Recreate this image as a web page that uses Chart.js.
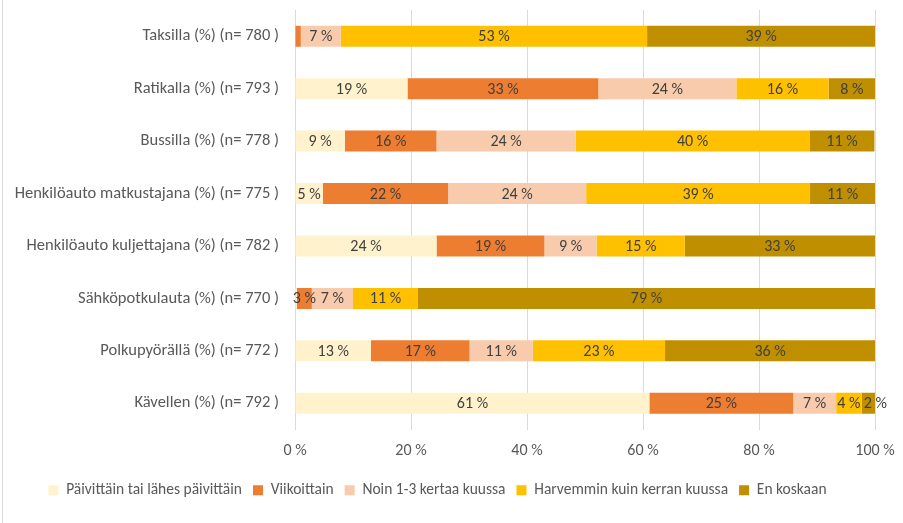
<!DOCTYPE html>
<html>
<head>
<meta charset="utf-8">
<script src="https://cdn.jsdelivr.net/npm/chart.js@4.4.1/dist/chart.umd.min.js"></script>
<style>
  html, body { margin: 0; padding: 0; background: #ffffff; }
  #wrap { position: relative; width: 903px; height: 523px; }
  #frame { position: absolute; left: 2px; top: 0; width: 0; height: 523px; border-left: 1px solid #d9d9d9; }
  canvas { position: absolute; left: 0; top: 0; }
</style>
</head>
<body>
<div id="wrap">
  <canvas id="c" width="903" height="523"></canvas>
  <div id="frame"></div>
</div>
<script>
const categories = [
  'Taksilla (%) (n= 780 )',
  'Ratikalla (%) (n= 793 )',
  'Bussilla (%) (n= 778 )',
  'Henkilöauto matkustajana (%) (n= 775 )',
  'Henkilöauto kuljettajana (%) (n= 782 )',
  'Sähköpotkulauta (%) (n= 770 )',
  'Polkupyörällä (%) (n= 772 )',
  'Kävellen (%) (n= 792 )'
];
const seriesNames = [
  'Päivittäin tai lähes päivittäin',
  'Viikoittain',
  'Noin 1-3 kertaa kuussa',
  'Harvemmin kuin kerran kuussa',
  'En koskaan'
];
const paivittain = [0, 19.4, 8.6, 4.8, 24.4, 0.3, 13.1, 61.1];
const viikoittain = [1.0, 32.9, 15.8, 21.6, 18.6, 2.6, 17.0, 24.8];
const noin13 = [6.9, 23.8, 24.0, 23.8, 9.0, 7.1, 10.9, 7.4];
const harvemmin = [52.8, 15.9, 40.3, 38.6, 15.2, 11.2, 22.8, 4.4];
const enKoskaan = [39.3, 8.0, 11.2, 11.2, 32.8, 78.8, 36.2, 2.3];
const xTicks = [0, 20, 40, 60, 80, 100];

const colors = ['#FFF2CC', '#ED7D31', '#F8CBAD', '#FFC000', '#BF8F00'];
const allSeries = [paivittain, viikoittain, noin13, harvemmin, enKoskaan];
const FONT = "Carlito, Lato, 'Open Sans', sans-serif";

const labelPlugin = {
  id: 'segLabels',
  afterDatasetsDraw(chart) {
    const ctx = chart.ctx;
    const right = chart.chartArea.right;
    ctx.save();
    ctx.font = '16px ' + FONT;
    ctx.fillStyle = '#404040';
    ctx.textAlign = 'center';
    ctx.textBaseline = 'middle';
    chart.data.datasets.forEach((ds, di) => {
      const meta = chart.getDatasetMeta(di);
      meta.data.forEach((el, i) => {
        const v = ds.data[i];
        if (v < 1.5) return;
        const txt = Math.round(v) + ' %';
        let cx = (el.x + el.base) / 2;
        const w = ctx.measureText(txt).width;
        const segW = Math.abs(el.x - el.base);
        if (w > segW && el.x >= right - 0.5) cx = el.base + w / 2 + 2;
        ctx.fillText(txt, cx, el.y + 1);
      });
    });
    ctx.restore();
  }
};

new Chart(document.getElementById('c'), {
  type: 'bar',
  data: {
    labels: categories,
    datasets: allSeries.map((d, i) => ({
      label: seriesNames[i],
      data: d,
      backgroundColor: colors[i],
      borderWidth: 0,
      categoryPercentage: 0.8,
      barPercentage: 0.5
    }))
  },
  options: {
    indexAxis: 'y',
    responsive: false,
    animation: false,
    layout: { padding: { left: 0, right: 28, top: 10, bottom: 15 } },
    scales: {
      x: {
        stacked: true,
        min: 0,
        max: 100,
        afterBuildTicks(scale) { scale.ticks = xTicks.map(v => ({ value: v })); },
        afterFit(scale) { scale.height = 42; scale.paddingLeft = 0; scale.paddingRight = 0; },
        grid: { color: '#d9d9d9', drawTicks: false, lineWidth: 1 },
        border: { display: false },
        ticks: {
          padding: 12,
          color: '#595959',
          font: { family: FONT, size: 16 },
          callback: v => v + ' %'
        }
      },
      y: {
        stacked: true,
        afterFit(scale) { scale.width = 295; scale.paddingTop = 0; scale.paddingBottom = 0; },
        grid: { display: false, drawTicks: false },
        border: { display: false },
        ticks: {
          padding: 16,
          color: '#595959',
          font: { family: FONT, size: 16.5 }
        }
      }
    },
    plugins: {
      legend: {
        position: 'bottom',
        labels: {
          boxWidth: 10,
          boxHeight: 10,
          padding: 11,
          color: '#595959',
          font: { family: FONT, size: 15.5 }
        }
      },
      tooltip: { enabled: false }
    }
  },
  plugins: [labelPlugin]
});
</script>
</body>
</html>
